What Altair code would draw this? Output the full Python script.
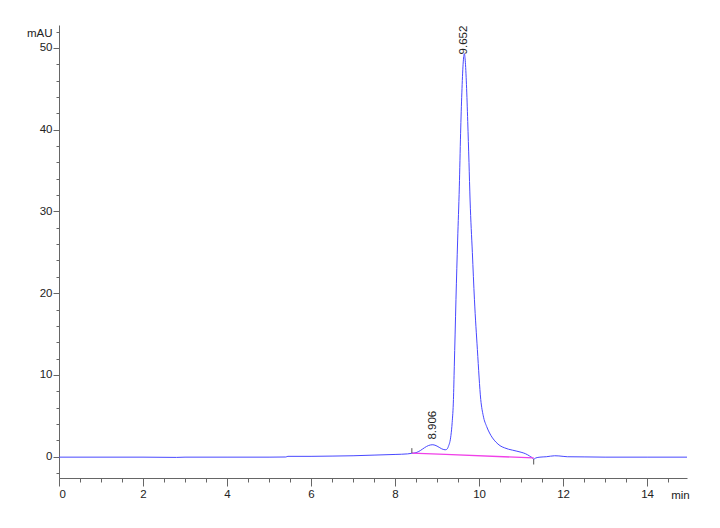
import altair as alt
import pandas as pd

# chromatogram trace (min, mAU)
time = [0.0, 1.0, 2.0, 2.8, 3.0, 4.0, 5.0, 5.4, 5.45, 6.0, 6.5, 7.0, 7.5, 8.0, 8.3, 8.4,
        8.5, 8.6, 8.7, 8.8, 8.9, 9.0, 9.1, 9.19, 9.23, 9.27, 9.33, 9.36, 9.39, 9.41,
        9.43, 9.45, 9.49, 9.53, 9.56, 9.59, 9.62, 9.65, 9.67, 9.70, 9.73, 9.76, 9.786,
        9.84, 9.89, 9.96, 10.04, 10.1, 10.18, 10.25, 10.32,
        10.4, 10.5, 10.6, 10.7, 10.8, 10.9, 11.0, 11.1, 11.2, 11.26, 11.3, 11.35, 11.45,
        11.6, 11.8, 11.9, 12.1, 12.5, 13.0, 14.0, 14.95]
signal = [-0.05, -0.05, -0.05, -0.08, -0.05, -0.05, -0.05, -0.03, 0.05, 0.05, 0.08, 0.12,
          0.2, 0.28, 0.35, 0.42, 0.5, 0.75, 1.1, 1.38, 1.47, 1.3, 1.0, 0.85, 0.9, 1.26,
          2.6, 4.2, 7.0, 11.0, 15.0, 19.2, 26.5, 33.0, 39.5, 44.5, 48.0, 49.3, 48.5,
          45.5, 41.0, 36.0, 31.4, 25.0, 19.2, 13.1, 7.0, 5.0, 3.7, 2.9,
          2.3, 1.8, 1.35, 1.1, 0.92, 0.8, 0.68, 0.55, 0.38, 0.1, -0.1, -0.3, -0.15,
          -0.05, 0.0, 0.12, 0.1, 0.0, -0.02, -0.05, -0.05, -0.05]

# integration baseline
base_t = [8.4, 9.2, 11.3]
base_v = [0.45, 0.3, -0.15]

# peak labels
peak_rt = [8.906, 9.652]
peak_top = [2.1, 49.2]
peak_text = ["8.906", "9.652"]

# integration markers
mark_t = [8.4, 11.3]
mark_lo = [0.45, -0.3]
mark_hi = [1.05, -0.95]

# axis ticks
x_major = [0, 2, 4, 6, 8, 10, 12, 14]
x_minor = [i * 0.5 for i in range(0, 30)]
y_major = [0, 10, 20, 30, 40, 50]
y_minor = list(range(-2, 53, 2))

trace = pd.DataFrame({"t": time, "v": signal})
base = pd.DataFrame({"t": base_t, "v": base_v})
peaks = pd.DataFrame({"t": peak_rt, "v": peak_top, "label": peak_text})
marks = pd.DataFrame({"t": mark_t, "lo": mark_lo, "hi": mark_hi})

FONT = "Liberation Sans"
xscale = alt.Scale(domain=[0, 14.95], nice=False, zero=False)
yscale = alt.Scale(domain=[-2.6, 52.8], nice=False, zero=False)

line = alt.Chart(trace).mark_line(color="#4848ff", strokeWidth=1, interpolate="monotone", clip=True).encode(
    x=alt.X("t:Q", scale=xscale, axis=alt.Axis(
        values=x_major, tickSize=8, format="d", orient="bottom", labelPadding=2,
        title="min", titleX=621, titleY=17, titleAlign="center", titleBaseline="middle",
        titleFontWeight="normal")),
    y=alt.Y("v:Q", scale=yscale, axis=alt.Axis(
        values=y_major, tickSize=6, orient="left", labelPadding=1,
        title="mAU", titleAngle=0, titleX=-7, titleY=8, titleAlign="right",
        titleBaseline="middle", titleFontWeight="normal")),
)

baseline = alt.Chart(base).mark_line(color="#f040e8", strokeWidth=1.3).encode(
    x=alt.X("t:Q", scale=xscale, axis=alt.Axis(
        values=x_minor, labels=False, tickSize=4, title=None, orient="bottom", domain=False)),
    y=alt.Y("v:Q", scale=yscale, axis=alt.Axis(
        values=y_minor, labels=False, tickSize=3, title=None, orient="left", domain=False)),
)

ticks = alt.Chart(marks).mark_rule(color="#555555", strokeWidth=1).encode(
    x=alt.X("t:Q", scale=xscale, axis=None),
    y=alt.Y("lo:Q", scale=yscale, axis=None),
    y2="hi:Q",
)

labels = alt.Chart(peaks).mark_text(angle=270, align="left", baseline="middle",
                                    font=FONT, fontSize=11.5, color="#222222").encode(
    x=alt.X("t:Q", scale=xscale, axis=None),
    y=alt.Y("v:Q", scale=yscale, axis=None),
    text="label:N",
)

chart = alt.layer(line, baseline, ticks, labels).resolve_axis(
    x="independent", y="independent"
).properties(
    width=628, height=453, autosize="none",
    padding={"left": 51, "top": 17, "right": 25, "bottom": 40},
).configure_view(strokeWidth=0).configure_axis(
    grid=False, domainColor="#666666", tickColor="#666666",
    labelFont=FONT, labelFontSize=11.5, labelColor="#222222",
    titleFont=FONT, titleFontSize=11.5, titleColor="#222222",
)

chart.save("out.html", embed_options={"renderer": "svg", "actions": False})
